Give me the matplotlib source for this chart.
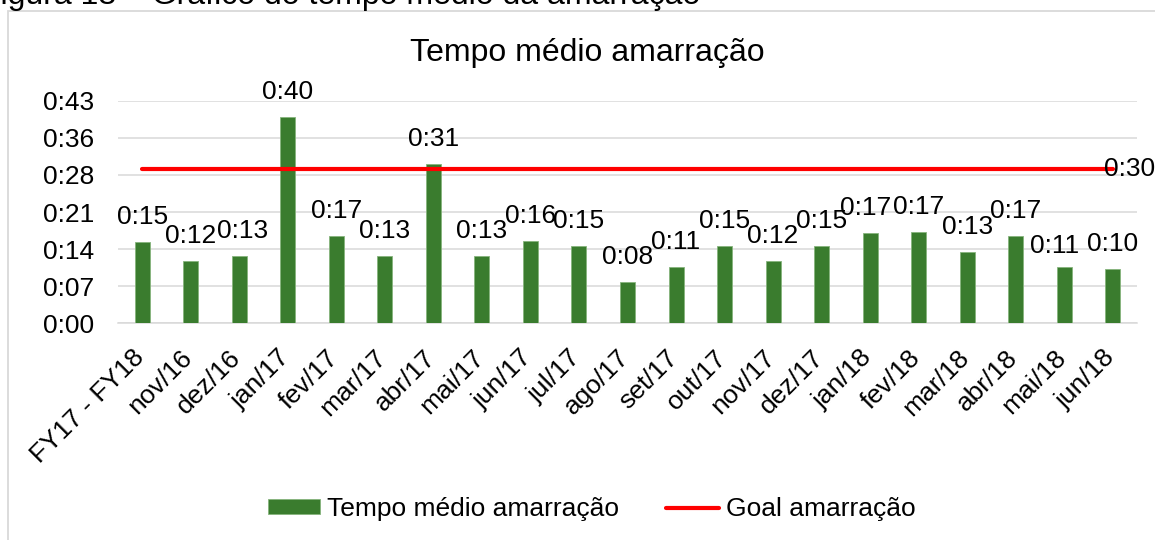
import matplotlib
matplotlib.use("Agg")
import matplotlib.pyplot as plt
import matplotlib.transforms as mtransforms
from matplotlib.patches import Rectangle
import numpy as np

plt.rcParams['font.family'] = ['Liberation Sans', 'DejaVu Sans']

# monthly average mooring time, in minutes
months = ["FY17 - FY18", "nov/16", "dez/16", "jan/17", "fev/17", "mar/17", "abr/17",
          "mai/17", "jun/17", "jul/17", "ago/17", "set/17", "out/17", "nov/17",
          "dez/17", "jan/18", "fev/18", "mar/18", "abr/18", "mai/18", "jun/18"]
tempo_medio = [15.8, 12.0, 13.0, 40.0, 17.0, 13.0, 31.0,
               13.0, 16.0, 15.0, 8.0, 11.0, 15.0, 12.0,
               15.0, 17.6, 17.8, 13.8, 17.0, 11.0, 10.5]
goal = [30, 30, 30, 30, 30, 30, 30,
        30, 30, 30, 30, 30, 30, 30,
        30, 30, 30, 30, 30, 30, 30]
y_ticks = [0, 7.2, 14.4, 21.6, 28.8, 36.0, 43.2]

# a few data labels were dragged aside to keep them apart (points)
label_nudge = {"dez/16": (2.5, 0), "jan/18": (-3.5, 0), "mai/18": (-7, -3)}


def hmm(v):
    # h:mm style, minutes truncated
    m = int(np.floor(v + 1e-6))
    return f"{m // 60}:{m % 60:02d}"


W, H = 1155, 540
fig = plt.figure(figsize=(W / 100, H / 100), dpi=100)
ax = fig.add_axes([118 / W, 1 - 323.3 / H, (1137 - 118) / W, (323.3 - 100.7) / H])

grid_c = '#D9D9D9'
fs = 19

x = np.arange(len(months))
bars = ax.bar(x, tempo_medio, width=0.31, color='#3A7C2E', edgecolor='#86B47C',
              linewidth=0.6, zorder=3, label='Tempo médio amarração')
line, = ax.plot(x, goal, color='#FF0000', lw=3.0, solid_capstyle='round',
                zorder=4, label='Goal amarração')

for xi, name, v in zip(x, months, tempo_medio):
    dx, dy = label_nudge.get(name, (0, 0))
    ax.annotate(hmm(v), (xi, v), xytext=(dx, 13 + dy), textcoords='offset points',
                ha='center', va='baseline', fontsize=fs, zorder=5)

ax.annotate(hmm(goal[-1]), (x[-1], goal[-1]), xytext=(-6, 0), textcoords='offset points',
            ha='left', va='center', fontsize=fs, zorder=5, annotation_clip=False)

ax.set_xlim(-0.5, len(months) - 0.5)
ax.set_ylim(0, 43.2)
ax.set_yticks(y_ticks)
ax.set_yticklabels([hmm(t) for t in y_ticks])
ax.set_xticks(x)
ax.set_xticklabels(months, rotation=45, ha='right', va='center', rotation_mode='anchor')

ax.tick_params(axis='y', length=0, pad=17, labelsize=fs)
ax.tick_params(axis='x', length=0, pad=22, labelsize=fs)
shift = mtransforms.ScaledTranslation(-2 / 100, 0, fig.dpi_scale_trans)
for lbl in ax.get_xticklabels():
    lbl.set_transform(lbl.get_transform() + shift)

ax.grid(axis='y', color=grid_c, lw=1.1, zorder=0)
for s in ['top', 'right', 'left']:
    ax.spines[s].set_visible(False)
ax.spines['bottom'].set_color(grid_c)
ax.spines['bottom'].set_linewidth(1.1)

# chart area border
fig.patches.append(Rectangle((8 / W, -0.1), 1.2, 1.1 - 11 / H, transform=fig.transFigure,
                             fill=False, edgecolor=grid_c, lw=1.3))

fig.text(587.5 / W, 1 - 61 / H, 'Tempo médio amarração', ha='center', va='baseline',
         fontsize=23)
fig.text(-19 / W, 1 - 4 / H, 'Figura 13 – Gráfico do tempo médio da amarração',
         ha='left', va='baseline', fontsize=23)

fig.legend(handles=[bars, line], loc='center', bbox_to_anchor=(591.5 / W, 1 - 509 / H),
           ncol=2, frameon=False, fontsize=fs, handlelength=2.0, handleheight=0.5,
           handletextpad=0.25, columnspacing=1.8, borderpad=0)

fig.savefig('out.png', dpi=100)
